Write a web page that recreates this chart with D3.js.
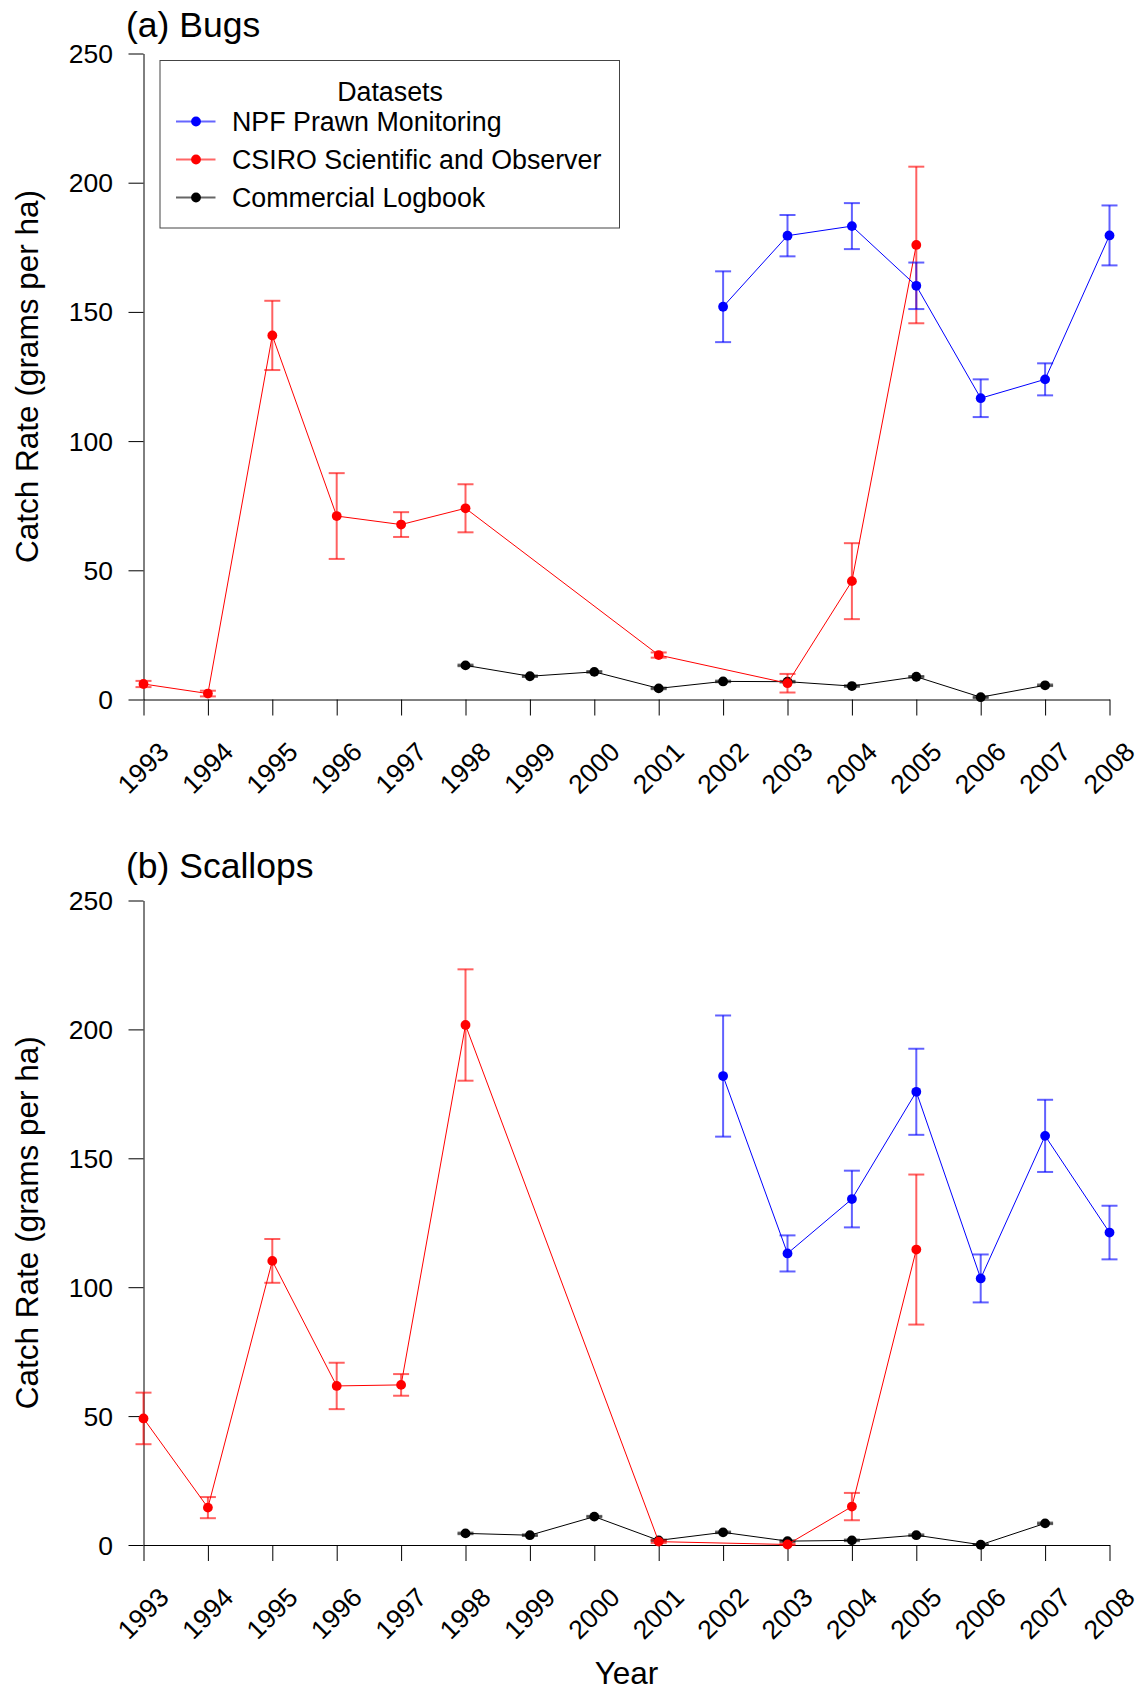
<!DOCTYPE html>
<html>
<head>
<meta charset="utf-8">
<script src="https://cdn.jsdelivr.net/npm/d3@7"></script>
<style>
  html, body { margin: 0; padding: 0; background: #ffffff; }
  svg { display: block; }
</style>
</head>
<body>
<script>
// ---- data -------------------------------------------------------------
const years = d3.range(1993, 2009);
const yTicks = [0, 50, 100, 150, 200, 250];

const seriesNames = ["NPF Prawn Monitoring", "CSIRO Scientific and Observer", "Commercial Logbook"];
const seriesColors = ["#0000ff", "#ff0000", "#000000"];

const npfYears   = [2002, 2003, 2004, 2005, 2006, 2007, 2008];
const csiroYears = [1993, 1994, 1995, 1996, 1997, 1998, 2001, 2003, 2004, 2005];
const logYears   = [1998, 1999, 2000, 2001, 2002, 2003, 2004, 2005, 2006, 2007];

// (a) Bugs — mean catch rate and standard error (grams per ha)
const bugsNPF      = [152.0, 179.5, 183.2, 160.1, 116.6, 123.9, 179.6];
const bugsNPFErr   = [13.7, 8.0, 8.9, 9.0, 7.3, 6.2, 11.6];
const bugsCSIRO    = [6.0, 2.3, 140.9, 71.0, 67.7, 74.0, 17.2, 6.3, 45.8, 175.9];
const bugsCSIROErr = [1.2, 1.1, 13.4, 16.6, 4.8, 9.3, 1.0, 3.6, 14.7, 30.3];
const bugsLog      = [13.2, 9.0, 10.7, 4.3, 7.0, 6.9, 5.2, 8.8, 0.9, 5.5];
const bugsLogErr   = [0.3, 0.3, 0.3, 0.3, 0.3, 0.3, 0.3, 0.3, 0.3, 0.3];

// (b) Scallops
const scalNPF      = [181.9, 113.1, 134.2, 175.8, 103.4, 158.7, 121.2];
const scalNPFErr   = [23.5, 7.0, 11.0, 16.7, 9.3, 14.0, 10.4];
const scalCSIRO    = [49.1, 14.5, 110.2, 61.7, 62.1, 201.7, 1.3, 0.2, 14.9, 114.6];
const scalCSIROErr = [10.0, 4.1, 8.5, 9.0, 4.2, 21.6, 0.5, 0.3, 5.3, 29.1];
const scalLog      = [4.5, 3.8, 11.0, 1.8, 4.9, 1.5, 1.8, 3.8, 0.1, 8.4];
const scalLogErr   = [0.3, 0.3, 0.3, 0.3, 0.3, 0.3, 0.3, 0.3, 0.3, 0.3];

// ---- layout -----------------------------------------------------------
const W = 1141, H = 1691;
const FONT = "'Liberation Sans', Arial, Helvetica, sans-serif";
const TICK_FS = 26.5, TITLE_FS = 35.5, AXIS_FS = 31.5, LEG_FS = 26.8;
const PT_R = 4.9;

const x = d3.scaleLinear().domain([1993, 2008]).range([143.5, 1109.5]);

const panels = [
  { title: "(a) Bugs", titleY: 37, yRange: [699.5, 53.5], legend: true,
    sets: [
      { yrs: logYears,   v: bugsLog,   e: bugsLogErr,   s: 2 },
      { yrs: csiroYears, v: bugsCSIRO, e: bugsCSIROErr, s: 1 },
      { yrs: npfYears,   v: bugsNPF,   e: bugsNPFErr,   s: 0 } ] },
  { title: "(b) Scallops", titleY: 878, yRange: [1545, 900.5], legend: false,
    sets: [
      { yrs: logYears,   v: scalLog,   e: scalLogErr,   s: 2 },
      { yrs: csiroYears, v: scalCSIRO, e: scalCSIROErr, s: 1 },
      { yrs: npfYears,   v: scalNPF,   e: scalNPFErr,   s: 0 } ] }
];

const svg = d3.select("body").append("svg")
  .attr("width", W).attr("height", H)
  .attr("viewBox", `0 0 ${W} ${H}`)
  .style("font-family", FONT);

svg.append("rect").attr("width", W).attr("height", H).attr("fill", "#fff");

// text helper with optional rotation
function label(g, tx, ty, str, size, anchor, rot = 0, dy = null) {
  const t = g.append("text")
    .attr("transform", `translate(${tx},${ty}) rotate(${rot})`)
    .attr("font-size", size)
    .attr("text-anchor", anchor)
    .attr("fill", "#000")
    .text(str);
  if (dy) t.attr("dy", dy);
  return t;
}

panels.forEach(p => {
  const y = d3.scaleLinear().domain([0, 250]).range(p.yRange);
  const g = svg.append("g");

  // y axis
  const ya = g.append("g").attr("transform", `translate(${x(1993)},0)`)
    .call(d3.axisLeft(y).tickValues(yTicks).tickSize(15).tickSizeOuter(0).tickFormat(""));
  ya.selectAll("path, line").attr("stroke", "#000").attr("stroke-width", 1);
  yTicks.forEach(t => label(g, 113, y(t), String(t), TICK_FS, "end", 0, "0.36em"));

  // x axis
  const xa = g.append("g").attr("transform", `translate(0,${y(0)})`)
    .call(d3.axisBottom(x).tickValues(years).tickSize(16).tickSizeOuter(0).tickFormat(""));
  xa.selectAll("path, line").attr("stroke", "#000").attr("stroke-width", 1);
  years.forEach(yr => label(g, x(yr) + 27, y(0) + 54, String(yr), TICK_FS, "end", -45));

  // axis titles
  label(g, 38, (p.yRange[0] + p.yRange[1]) / 2, "Catch Rate (grams per ha)", AXIS_FS, "middle", -90);
  label(g, 126, p.titleY, p.title, TITLE_FS, "start");

  // series
  p.sets.forEach(set => {
    const col = seriesColors[set.s];
    const pts = set.yrs.map((yr, i) => ({ yr, v: set.v[i], e: set.e[i] }));
    const sg = g.append("g");

    sg.append("path").datum(pts)
      .attr("fill", "none").attr("stroke", col).attr("stroke-width", 1)
      .attr("d", d3.line().x(d => x(d.yr)).y(d => y(d.v)));

    const eb = sg.append("g").attr("stroke", col).attr("stroke-opacity", 0.62)
      .attr("stroke-width", 2).attr("fill", "none");
    pts.forEach(d => {
      const cx = x(d.yr), y1 = y(d.v + d.e), y0 = y(Math.max(0, d.v - d.e));
      eb.append("line").attr("x1", cx).attr("x2", cx).attr("y1", y1).attr("y2", y0);
      eb.append("line").attr("x1", cx - 8).attr("x2", cx + 8).attr("y1", y1).attr("y2", y1);
      eb.append("line").attr("x1", cx - 8).attr("x2", cx + 8).attr("y1", y0).attr("y2", y0);
    });

    sg.selectAll("circle").data(pts).join("circle")
      .attr("cx", d => x(d.yr)).attr("cy", d => y(d.v))
      .attr("r", PT_R).attr("fill", col);
  });

  if (p.legend) {
    const lg = g.append("g");
    lg.append("rect").attr("x", 160).attr("y", 60.5).attr("width", 459.5).attr("height", 167.5)
      .attr("fill", "#fff").attr("stroke", "#444").attr("stroke-width", 1);
    label(lg, 390, 101, "Datasets", LEG_FS, "middle");
    seriesNames.forEach((name, i) => {
      const ly = 121.5 + i * 38;
      lg.append("line").attr("x1", 176).attr("x2", 215.5).attr("y1", ly).attr("y2", ly)
        .attr("stroke", seriesColors[i]).attr("stroke-opacity", 0.6).attr("stroke-width", 2);
      lg.append("circle").attr("cx", 196).attr("cy", ly).attr("r", PT_R).attr("fill", seriesColors[i]);
      label(lg, 232, ly + 9.5, name, LEG_FS, "start");
    });
  }
});

// shared x-axis title
label(svg, (x(1993) + x(2008)) / 2, 1684, "Year", AXIS_FS, "middle");
</script>
</body>
</html>
